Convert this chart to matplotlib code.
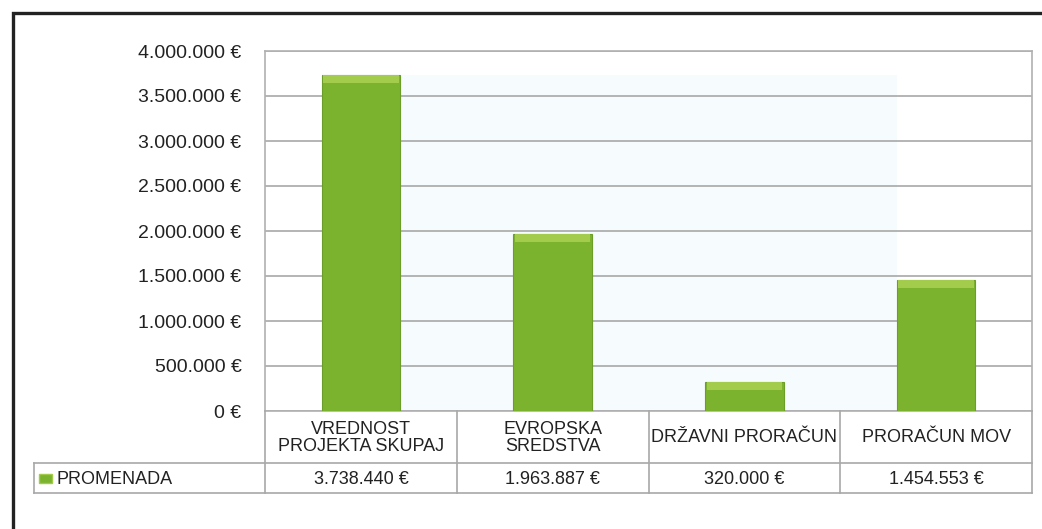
import matplotlib
matplotlib.use("Agg")
import matplotlib.pyplot as plt
from matplotlib.patches import Rectangle
from matplotlib.lines import Line2D
from matplotlib.ticker import FuncFormatter, MultipleLocator

categories = ["VREDNOST\nPROJEKTA SKUPAJ", "EVROPSKA\nSREDSTVA", "DRŽAVNI PRORAČUN", "PRORAČUN MOV"]
values = [3738440, 1963887, 320000, 1454553]
value_labels = ["3.738.440 €", "1.963.887 €", "320.000 €", "1.454.553 €"]
series_name = "PROMENADA"

plt.rcParams['font.family'] = ['Liberation Sans', 'DejaVu Sans']

W, H = 1042, 529
fig = plt.figure(figsize=(W / 100, H / 100), dpi=100)

def fx(px):
    return px / W

def fy(py):
    return 1 - py / H

# outer frame
fig.add_artist(Rectangle((fx(13), fy(560)), fx(1080) - fx(13), fy(13) - fy(560),
                         transform=fig.transFigure, fill=False, lw=2.4, ec='#222222'))

left, right, top, bottom = 265, 1032, 51, 411
ax = fig.add_axes([fx(left), fy(bottom), fx(right) - fx(left), fy(top) - fy(bottom)])
ax.set_xlim(-0.5, len(categories) - 0.5)
ax.set_ylim(0, 4000000)
ax.yaxis.set_major_locator(MultipleLocator(500000))

def fmt(v, pos):
    s = f"{int(round(v)):,}".replace(",", ".")
    return f"{s} €"

ax.yaxis.set_major_formatter(FuncFormatter(fmt))
ax.tick_params(axis='y', length=0, pad=17, labelsize=14, labelcolor='#222222')
for lab in ax.get_yticklabels():
    lab.set_va('center_baseline')
ax.set_xticks([])
ax.grid(axis='y', color='#a0a0a0', lw=1.1)
ax.set_axisbelow(True)
for s in ax.spines.values():
    s.set_color('#b0b0b0')
    s.set_linewidth(1.2)

xs = list(range(len(categories)))
bw = 0.41

# faint light-blue backdrop behind the bars (as in the reference rendering)
ax.fill_between([xs[0] + bw / 2, xs[-1] - bw / 2], 0, values[0],
                color='#f6fbfd', lw=0, zorder=0.5)

ax.bar(xs, values, width=bw, color='#7bb32e', edgecolor='#6a9e28', lw=0.8, zorder=3)
cap = [90000 for _ in values]
ax.bar(xs, cap, width=bw * 0.96, bottom=[v - c for v, c in zip(values, cap)],
       color='#a3cc4c', lw=0, zorder=4)

# data table
tl, tr = 34, 1032
row1_top, row1_bot, row2_bot = 411, 463, 493
lc = '#a8a8a8'
def hline(y, x0, x1):
    fig.add_artist(Line2D([fx(x0), fx(x1)], [fy(y), fy(y)], transform=fig.transFigure, color=lc, lw=1.2))
def vline(x, y0, y1):
    fig.add_artist(Line2D([fx(x), fx(x)], [fy(y0), fy(y1)], transform=fig.transFigure, color=lc, lw=1.2))

hline(row1_bot, tl, tr)
hline(row2_bot, tl, tr)
vline(tl, row1_bot, row2_bot)
colw = (right - left) / len(categories)
for i in range(len(categories) + 1):
    vline(left + i * colw, row1_top, row2_bot)

for i, (c, vl) in enumerate(zip(categories, value_labels)):
    cx = left + (i + 0.5) * colw
    fig.text(fx(cx), fy((row1_top + row1_bot) / 2 + 1), c, ha='center', va='center',
             fontsize=13, color='#222222', linespacing=0.95)
    fig.text(fx(cx), fy((row1_bot + row2_bot) / 2 + 1), vl, ha='center', va='center',
             fontsize=13, color='#222222')

fig.add_artist(Rectangle((fx(39), fy(483)), fx(52) - fx(39), fy(474) - fy(483),
                         transform=fig.transFigure, fc='#7bb32e', ec='#a2cb4a', lw=1))
fig.text(fx(57), fy((row1_bot + row2_bot) / 2 + 1), series_name, ha='left', va='center',
         fontsize=13, color='#222222')

fig.savefig("out.png", dpi=100)
